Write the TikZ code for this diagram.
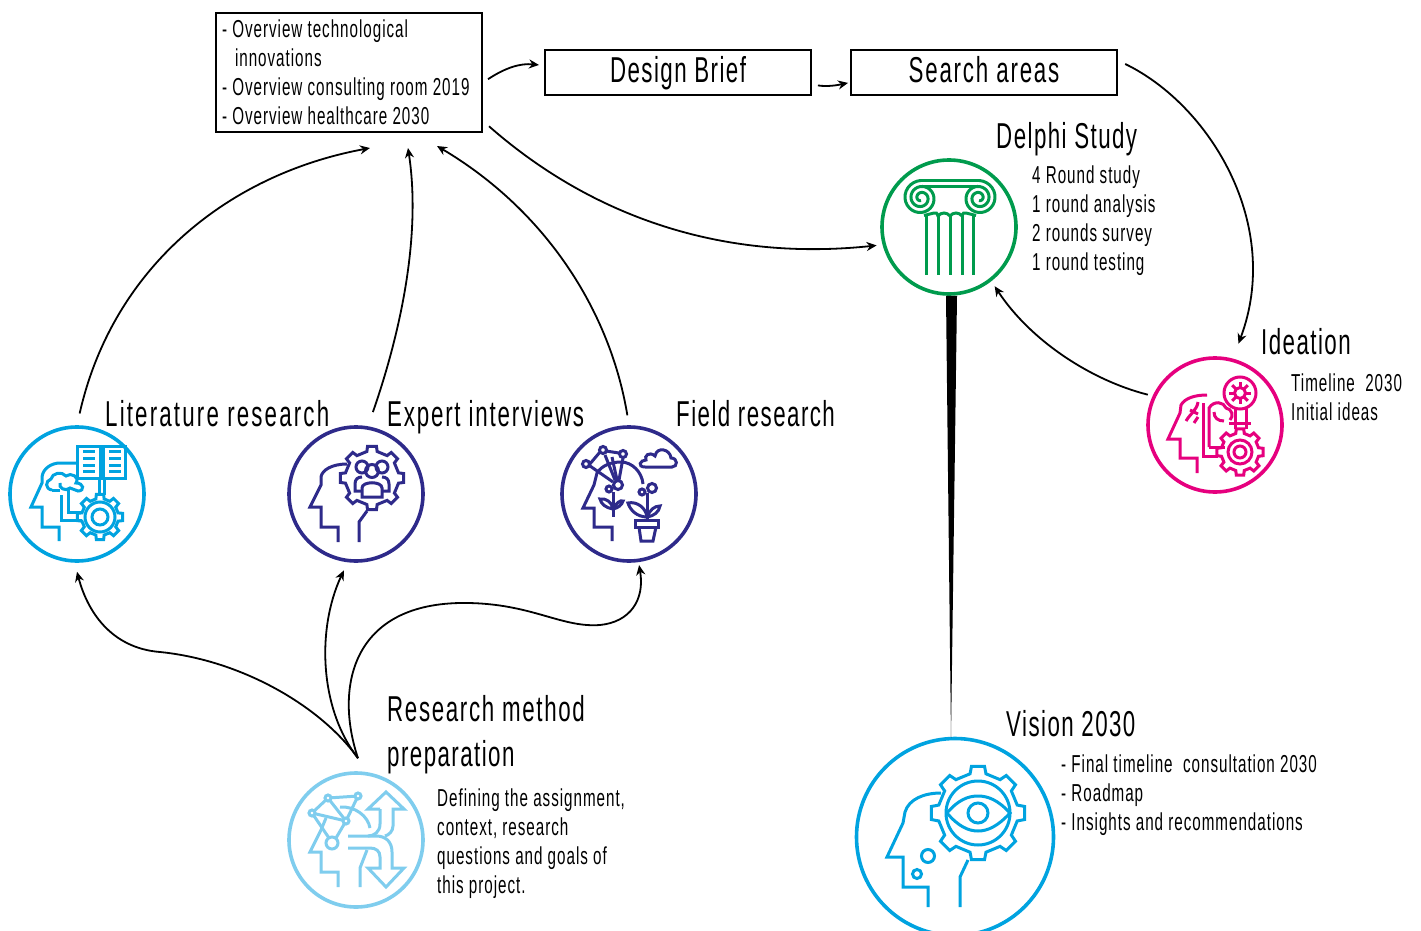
\documentclass[tikz,border=0pt]{standalone}
\usepackage{fontspec}
\setmainfont[FakeStretch=0.62,LetterSpace=4]{Liberation Sans}
\usetikzlibrary{arrows.meta}
\definecolor{cyanicon}{RGB}{0,163,224}
\definecolor{navyicon}{RGB}{46,42,138}
\definecolor{skyicon}{RGB}{127,205,238}
\definecolor{greenicon}{RGB}{0,155,77}
\definecolor{pinkicon}{RGB}{230,0,126}
\tikzset{
  x=1pt,y=-1pt,
  ring/.style={circle,draw=#1,line width=3.6pt,minimum size=134pt,inner sep=0pt},
  icon/.style={draw=#1,line width=3pt,line join=miter,fill=none},
  conn/.style={draw=black,line width=1.8pt,-{Stealth[length=10pt,width=9pt]}},
  head/.style={font=\fontsize{36}{45}\selectfont,anchor=west,inner sep=0pt,align=flush left},
  headone/.style={font=\fontsize{36}{45}\selectfont,anchor=base west,inner sep=0pt},
  body/.style={font=\fontsize{24.5}{29}\selectfont,anchor=west,inner sep=0pt,align=flush left},
  flat/.style={draw=black,line width=2pt,minimum width=266pt,minimum height=45pt,inner sep=0pt,text height=26pt,text depth=5pt,font=\fontsize{36}{45}\selectfont},
}
% #1 style, #2 x, #3 y, #4 inner radius, #5 outer radius, #6 half tooth angle (base), #7 half tooth angle (tip)
\newcommand{\gearring}[7][]{%
  \begin{scope}[shift={(#2,#3)}]
    \path[#1] (45-#6:#4) \foreach \a in {45,90,...,360}{ -- (\a-#6:#4) -- (\a-#7:#5) -- (\a+#7:#5) -- (\a+#6:#4)} -- cycle;
  \end{scope}}
\begin{document}
\begin{tikzpicture}
\useasboundingbox (0,0) rectangle (1421,931);
\clip (0,0) rectangle (1421,931);
\fill[white] (0,0) rectangle (1421,931);

% ---- boxes
\node[draw=black,line width=2pt,minimum width=266pt,minimum height=119pt,inner sep=0pt,
      text width=254pt,align=flush left,font=\fontsize{24.5}{29}\selectfont] (box) at (349,72.5)
  {- Overview technological\\\hspace*{13pt}innovations\\- Overview consulting room 2019\\- Overview healthcare 2030};
\node[flat] (brief) at (678,72.5) {Design Brief};
\node[flat] (search) at (984,72.5) {\addfontfeature{LetterSpace=5}Search areas};

% ---- rings
\node[ring=cyanicon] (lit) at (77,494) {};
\node[ring=navyicon] (exp) at (356,494) {};
\node[ring=navyicon] (field) at (629,494) {};
\node[ring=skyicon] (res) at (356,840) {};
\node[ring=greenicon] (delphi) at (949,227) {};
\node[ring=pinkicon] (idea) at (1215,425) {};
\node[ring=cyanicon,minimum size=197pt] (vision) at (955,837) {};

% ---- labels
\node[headone] (tLit) at (105,426) {\addfontfeature{LetterSpace=6}Literature research};
\node[headone] (tExp) at (387,426) {\addfontfeature{LetterSpace=5}Expert interviews};
\node[headone] (tField) at (676,426) {Field research};
\node[head] (tRes) at (387,734.5) {\addfontfeature{LetterSpace=4.6}Research method\\preparation};
\node[body] (dRes) at (437,843.5) {Defining the assignment,\\context, research\\questions and goals of\\this project.};
\node[headone] (tDelphi) at (996,148) {Delphi Study};
\node[body] (dDelphi) at (1032,220.5) {4 Round study\\1 round analysis\\2 rounds survey\\1 round testing};
\node[headone] (tIdea) at (1261,354) {Ideation};
\node[body] (dIdea) at (1291,397.5) {Timeline\ \ 2030\\Initial ideas};
\node[headone] (tVision) at (1006,736) {Vision 2030};
\node[body] (dVision) at (1061,795) {- Final timeline\ \ consultation 2030\\- Roadmap\\- Insights and recommendations};

% ---- connectors
\draw[conn,shorten <=12pt] (lit.north) .. controls (112,270) and (225,175) .. ([shift={(21pt,-15pt)}]box.south);
\draw[conn,shorten <=15pt] (exp.80) .. controls (398,340) and (422,240) .. ([shift={(59pt,-15pt)}]box.south);
\draw[conn,shorten <=10pt] (field.north) .. controls (610,310) and (545,210) .. ([shift={(88pt,-13pt)}]box.south);
\draw[conn,shorten <=6pt,shorten >=5pt] ([yshift=-10pt]box.east) .. controls (505,68) and (520,63) .. ([yshift=7pt]brief.west);
\draw[conn,shorten <=6pt,shorten >=2pt] ([yshift=-12pt]brief.east) .. controls (828,87) and (838,85) .. ([yshift=-10pt]search.west);
\draw[conn,shorten <=8pt,shorten >=16pt] ([yshift=12pt]search.east) .. controls (1210,105) and (1283,225) .. (idea.75);
\draw[conn,shorten <=8pt,shorten >=6pt] ([yshift=12pt]box.south east) .. controls (590,215) and (720,262) .. (delphi.195);
\draw[conn,shorten <=5pt,shorten >=6pt] (idea.155) .. controls (1090,380) and (1030,340) .. (delphi.-52);
\fill[black] ([xshift=-3pt]delphi.south) -- ([xshift=8pt]delphi.south) -- (951,738) -- cycle;
\draw[conn] ([shift={(2pt,13pt)}]res.north) .. controls (320,705) and (240,660) .. (160,652) .. controls (110,648) and (87,610) .. ([yshift=-9pt]lit.south);
\draw[conn,shorten >=9pt] ([shift={(2pt,13pt)}]res.north) .. controls (320,710) and (316,630) .. (exp.-97);
\draw[conn,shorten >=3pt] ([shift={(2pt,13pt)}]res.north) .. controls (335,690) and (350,605) .. (460,603) .. controls (530,602) and (560,628) .. (600,625) .. controls (630,622) and (645,600) .. (field.-82);

% ---- Literature icon
\begin{scope}[every path/.style={icon=cyanicon}]
\path (59,541) -- (59,527) -- (42,527) -- (42,507) -- (31,507) -- (42,483) -- (42,477) .. controls (43,468) and (52,463) .. (60,463) -- (78,463);
\path (77,478) -- (77,446) -- (100,446) -- (100,475) -- (103,475) -- (103,446) -- (125,446) -- (125,478) -- (77,478);
\foreach \y in {451,458,465,471}{\path (83,\y) -- (95,\y); \path (109,\y) -- (121,\y);}
\path (99,478) -- (99,495); \path (104,478) -- (104,495);
\path (52,490) .. controls (45,489) and (45,481) .. (51,479) .. controls (52,473) and (62,471) .. (66,476) .. controls (71,472) and (80,477) .. (76,483) .. controls (84,483) and (85,491) .. (78,491) -- (70,488) .. controls (66,492) and (58,488) .. (60,483);
\path (60,490) -- (52,490);
\path (68,490) -- (68,512) -- (83,512);
\path (61,495) -- (61,520) -- (82,520);
\gearring[icon=cyanicon]{100}{517}{18.5}{23}{13}{9}
\path (100,517) circle (15);
\path (100,517) circle (8);
\end{scope}

% ---- Expert icon
\begin{scope}[every path/.style={icon=navyicon}]
\path (338,542) -- (338,527) -- (321,527) -- (321,507) -- (310,507) -- (321,485) -- (321,477) .. controls (322,470) and (332,464) .. (347,464);
\path (359,542) -- (359,522) -- (367,511);
\gearring[icon=navyicon]{372}{478}{27}{32}{11}{8}
\path (362,467) circle (6);
\path (382,467) circle (6);
\path (372,471) circle (6.5);
\path (362,497) -- (362,488) .. controls (362,481) and (382,481) .. (382,488) -- (382,497) -- cycle;
\path (362,491) -- (355,491) -- (355,484) .. controls (355,479) and (358,477) .. (362,477);
\path (382,491) -- (389,491) -- (389,484) .. controls (389,479) and (386,477) .. (382,477);
\end{scope}

% ---- Field icon
\begin{scope}[every path/.style={icon=navyicon}]
\path (612,541) -- (612,527) -- (594,527) -- (594,508) -- (583,508) -- (594,485) -- (597,473) .. controls (602,465) and (612,462) .. (621,462) .. controls (632,462) and (642,472) .. (643,484);
\path (589,465) -- (600,452); \path (606,451) -- (619,453); \path (623,458) -- (619,480); \path (590,466) -- (613,482);
\path (605,455) -- (615,480); \path (612,457) -- (617,480);
\path (586,464) circle (3.5); \path (603,450) circle (3.5); \path (623,454) circle (3.5);
\path (618,485) circle (4.5); \path (609,489) circle (3);
\path (613,492) -- (613,517);
\path (613,509) .. controls (606,508) and (601,504) .. (600,499) .. controls (606,498) and (612,502) .. (613,509) .. controls (616,503) and (620,500) .. (623,501) .. controls (622,505) and (618,508) .. (613,509);
\path (652,488) circle (4.5); \path (642,492) circle (3);
\path (647,493) -- (647,520);
\path (647,517) .. controls (637,517) and (630,510) .. (628,503) .. controls (637,501) and (646,508) .. (647,517) .. controls (650,510) and (654,506) .. (660,506) .. controls (659,512) and (654,516) .. (647,517);
\path (635,520) rectangle (658,527);
\path (639,527) -- (641,541) -- (653,541) -- (656,527);
\path (645,467) -- (672,467) .. controls (678,467) and (678,458) .. (671,458) .. controls (670,449) and (657,446) .. (655,456) .. controls (649,451) and (644,456) .. (646,460) .. controls (640,460) and (637,467) .. (645,467);
\end{scope}

% ---- Research icon
\begin{scope}[every path/.style={icon=skyicon}]
\path (338,887) -- (338,872) -- (321,872) -- (321,852) -- (310,852) -- (321,830) -- (326,818);
\path (340,807) .. controls (355,806) and (368,816) .. (370,828);
\path (312,813) -- (328,798) -- (358,796) -- (346,821) -- (312,813);
\path (328,798) -- (346,821); \path (312,813) -- (329,838); \path (346,821) -- (336,838);
\path[fill=white] (328,798) circle (3); \path[fill=white] (358,796) circle (3);
\path[fill=white] (312,813) circle (3); \path[fill=white] (346,821) circle (3);
\path (332,843) circle (6);
\path (380,809) -- (368,809) -- (386,792) -- (404,809) -- (393,809) -- (393,826) .. controls (393,831) and (389,835) .. (385,836);
\path (380,809) -- (380,824) .. controls (380,832) and (374,836) .. (368,836) -- (348,836);
\path (368,836) -- (376,836) .. controls (386,836) and (392,842) .. (392,852) -- (392,868) -- (404,868) -- (386,887) -- (368,868) -- (380,868) -- (380,857) .. controls (380,851) and (376,848) .. (370,848) -- (348,848);
\path (360,887) -- (360,868) -- (367,850);
\end{scope}

% ---- Delphi icon
\begin{scope}[every path/.style={icon=greenicon}]
\path (921,180.5) -- (979,180.5);
\path (921,186.5) -- (979,186.5);
\path plot[smooth,samples=70,domain=0:2.5] ({921+(17.5-6*\x)*cos(270-360*\x)},{198+(17.5-6*\x)*sin(270-360*\x)});
\path plot[smooth,samples=70,domain=0:2.5] ({979-(17.5-6*\x)*cos(270-360*\x)},{198+(17.5-6*\x)*sin(270-360*\x)});
\path (924,215.5) -- (934,213) .. controls (936,212) and (937,213) .. (938,216) .. controls (941,212) and (947,212) .. (950,216) .. controls (953,212) and (959,212) .. (962,216) .. controls (963,213) and (964,212) .. (966,213) -- (976,215.5);
\foreach \x in {926,938,950,962,973}{\path (\x,215) -- (\x,275);}
\end{scope}

% ---- Ideation icon
\begin{scope}[every path/.style={icon=pinkicon}]
\path (1197,473) -- (1197,458) -- (1180,458) -- (1180,439) -- (1168,439) -- (1180,413) -- (1181,405) .. controls (1185,398) and (1195,395) .. (1207,395);
\path (1203,403) -- (1203,456) -- (1218,456);
\path (1209,447) -- (1225,447);
\path (1209,447) -- (1209,408) .. controls (1214,400) and (1224,402) .. (1226,408) .. controls (1232,409) and (1234,416) .. (1230,420);
\path (1214,412) .. controls (1214,418) and (1218,421) .. (1224,421);
\path (1198,402) .. controls (1197,410) and (1190,414) .. (1186,421);
\path (1190,410) -- (1198,414);
\path (1198,417) -- (1194,423);
\path (1240,393) circle (16);
\path (1240,393) circle (5.5);
\foreach \a in {0,45,...,315}{\path (\a:0) ++(1240,393) ++(\a:5.5) -- ++(\a:5.5);}
\path (1235,408) -- (1235,429); \path (1246,408) -- (1246,429);
\path (1229,423) -- (1251,423);
\gearring[icon=pinkicon]{1240}{452}{19}{23.5}{13}{9}
\path (1240,452) circle (12);
\path (1240,452) circle (6);
\end{scope}

% ---- Vision icon
\begin{scope}[every path/.style={icon=cyanicon}]
\path (928,907) -- (928,887) -- (903,887) -- (903,857) -- (887,857) -- (903,823) -- (905,812) .. controls (909,799) and (924,793) .. (941,793);
\path (960,907) -- (960,877) -- (968,860);
\path (928,856) circle (6.5);
\path (917,874) circle (4.5);
\gearring[icon=cyanicon]{978}{813}{40}{47}{11.5}{8}
\path (978,813) circle (32);
\path (947,813) .. controls (958,800) and (968,796) .. (978,796) .. controls (988,796) and (998,800) .. (1010,813) .. controls (998,826) and (988,831) .. (978,831) .. controls (968,831) and (958,826) .. (947,813) -- cycle;
\path (978,813) circle (10);
\end{scope}
\end{tikzpicture}
\end{document}
